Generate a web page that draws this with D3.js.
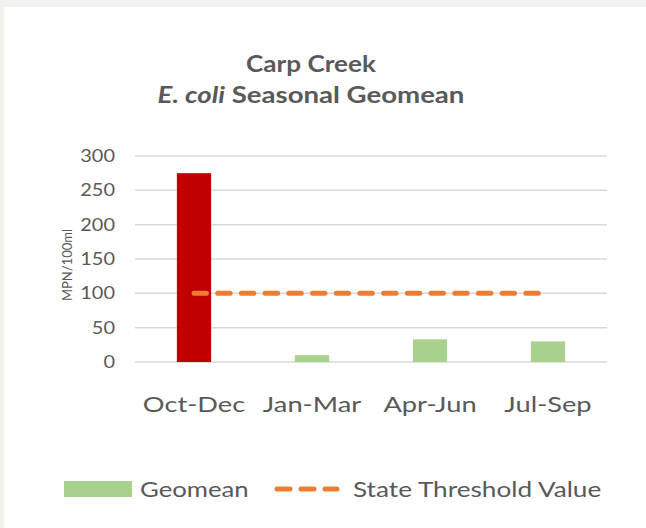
<!DOCTYPE html>
<html>
<head>
<meta charset="utf-8">
<script src="https://cdn.jsdelivr.net/npm/d3@7"></script>
<style>
  html, body { margin: 0; padding: 0; background: #f2f1ed; }
  svg { display: block; }
  text { font-family: Lato, "Open Sans", sans-serif; fill: #595959; }
</style>
</head>
<body>
<script>
// Seasonal E. coli geometric means for Carp Creek
const seasons = ["Oct-Dec", "Jan-Mar", "Apr-Jun", "Jul-Sep"];
const geomean = [275, 10, 33, 30];
const threshold = [100, 100, 100, 100];
const yTicks = [0, 50, 100, 150, 200, 250, 300];
const barColors = ["#c00000", "#a9d18e", "#a9d18e", "#a9d18e"];

const W = 646, H = 528;
const margin = { left: 135, right: 39, top: 156, bottom: 166 };
const FONT = "Lato, 'Open Sans', sans-serif";

const svg = d3.select("body").append("svg")
  .attr("width", W).attr("height", H);

// white chart card on the pale frame
svg.append("rect").attr("x", 4).attr("y", 7)
  .attr("width", W - 4).attr("height", H - 7).attr("fill", "#ffffff");

const x = d3.scaleBand().domain(seasons)
  .range([margin.left, W - margin.right]).paddingInner(0.71).paddingOuter(0.355);
const y = d3.scaleLinear().domain([0, 300])
  .range([H - margin.bottom, margin.top]);

// horizontal gridlines
svg.append("g").selectAll("line").data(yTicks).join("line")
  .attr("x1", margin.left).attr("x2", W - margin.right)
  .attr("y1", d => y(d)).attr("y2", d => y(d))
  .attr("stroke", "#d9d9d9").attr("stroke-width", 1.5);

// y axis labels (slightly widened glyphs)
const yAxis = d3.axisLeft(y).tickValues(yTicks).tickSize(0).tickPadding(0);
const gy = svg.append("g").attr("transform", `translate(${margin.left - 20},0)`).call(yAxis);
gy.select(".domain").remove();
gy.selectAll("text").attr("font-size", 17.5).attr("fill", "#595959")
  .style("font-family", FONT).attr("transform", "scale(1.14,1)");

// x axis labels
const xAxis = d3.axisBottom(x).tickSize(0).tickPadding(0);
const gx = svg.append("g").attr("transform", `translate(0,${y(0) + 34})`).call(xAxis);
gx.select(".domain").remove();
gx.selectAll("text").attr("font-size", 22).attr("fill", "#595959")
  .style("font-family", FONT).attr("transform", "scale(1.24,1)");

// bars
svg.append("g").selectAll("rect").data(seasons).join("rect")
  .attr("x", d => x(d))
  .attr("width", x.bandwidth())
  .attr("y", (d, i) => y(geomean[i]))
  .attr("height", (d, i) => y(0) - y(geomean[i]))
  .attr("fill", (d, i) => barColors[i]);

// state threshold line
const line = d3.line()
  .x((d, i) => x(seasons[i]) + x.bandwidth() / 2)
  .y(d => y(d));
svg.append("path").datum(threshold)
  .attr("d", line)
  .attr("fill", "none")
  .attr("stroke", "#ed7d31")
  .attr("stroke-width", 5)
  .attr("stroke-linecap", "round")
  .attr("stroke-dasharray", "12.5 11.2");

// y axis title
svg.append("text")
  .attr("transform", "translate(72,265) rotate(-90)")
  .attr("text-anchor", "middle")
  .attr("font-size", 13)
  .text("MPN/100ml");

// title
svg.append("g").attr("transform", "translate(311,72) scale(1.135,1)")
  .append("text")
  .attr("text-anchor", "middle").attr("font-size", 23).attr("font-weight", "bold")
  .text("Carp Creek");
const t2 = svg.append("g").attr("transform", "translate(311,103) scale(1.2,1)")
  .append("text")
  .attr("text-anchor", "middle").attr("font-size", 23).attr("font-weight", "bold");
t2.append("tspan").attr("font-style", "italic").text("E. coli");
t2.append("tspan").text(" Seasonal Geomean");

// legend
const legY = 489;
svg.append("rect").attr("x", 64).attr("y", legY - 8).attr("width", 68).attr("height", 16)
  .attr("fill", "#a9d18e");
svg.append("g").attr("transform", `translate(140,${legY + 8}) scale(1.17,1)`)
  .append("text").attr("font-size", 22).text("Geomean");
svg.append("line").attr("x1", 277).attr("x2", 337).attr("y1", legY).attr("y2", legY)
  .attr("stroke", "#ed7d31").attr("stroke-width", 5).attr("stroke-linecap", "round")
  .attr("stroke-dasharray", "13 11");
svg.append("g").attr("transform", `translate(353,${legY + 8}) scale(1.19,1)`)
  .append("text").attr("font-size", 22).text("State Threshold Value");
</script>
</body>
</html>
